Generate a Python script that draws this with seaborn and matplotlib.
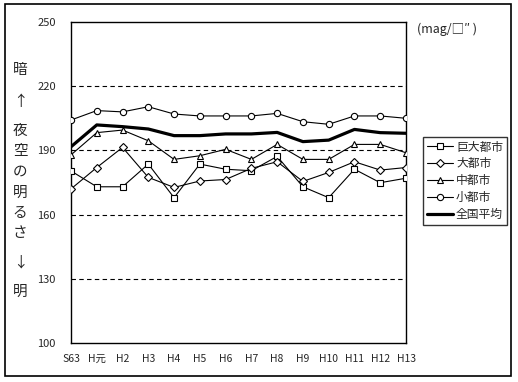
import numpy as np
import pandas as pd
import matplotlib
matplotlib.use("Agg")
import matplotlib.pyplot as plt
from matplotlib.patches import Rectangle
import seaborn as sns

# categories (fiscal years) and series values
years = ['S63', 'H元', 'H2', 'H3', 'H4', 'H5', 'H6', 'H7', 'H8', 'H9', 'H10', 'H11', 'H12', 'H13']
kyodai = [180.4, 173, 173, 183.6, 167.9, 183.6, 181.2, 180.5, 187.2, 173, 167.9, 181.2, 174.9, 177]
dai = [172, 182, 191.4, 177.4, 172.7, 175.7, 176.4, 181.6, 184.7, 175.5, 179.7, 184.7, 180.8, 182]
chu = [187.9, 198.3, 199.5, 194.5, 185.8, 187.5, 190.5, 185.8, 192.8, 185.8, 185.8, 192.8, 192.8, 188.9]
sho = [204.2, 208.6, 208, 210.4, 207, 206.1, 206.1, 206.1, 207.3, 203.4, 202.2, 206.1, 206.1, 205]
zenkoku = [191.7, 201.9, 201.1, 200, 196.9, 196.9, 197.7, 197.7, 198.4, 194.1, 194.8, 199.8, 198.3, 198]

series_names = ['巨大都市', '大都市', '中都市', '小都市', '全国平均']
series_vals = [kyodai, dai, chu, sho, zenkoku]
y_ticks = [100, 130, 160, 190, 220, 250]

sns.set_style("white")
plt.rcParams['font.family'] = ['Noto Sans CJK JP', 'DejaVu Sans']

df = pd.DataFrame({'idx': np.arange(len(years))})
for name, vals in zip(series_names, series_vals):
    df[name] = vals

fig = plt.figure(figsize=(5.18, 3.82), dpi=100)
ax = fig.add_axes([71 / 518, 1 - 343 / 382, 335 / 518, 321 / 382])

styles = {
    '巨大都市': dict(marker='s', lw=0.8, ms=4.5),
    '大都市': dict(marker='D', lw=0.8, ms=3.6),
    '中都市': dict(marker='^', lw=0.8, ms=4.8),
    '小都市': dict(marker='o', lw=0.8, ms=4.5),
    '全国平均': dict(marker=None, lw=2.3, ms=0),
}
for name in series_names:
    st = styles[name]
    kw = dict(color='black', linewidth=st['lw'], label=name, ax=ax, zorder=3)
    if st['marker']:
        kw.update(marker=st['marker'], markersize=st['ms'], markerfacecolor='white',
                  markeredgecolor='black', markeredgewidth=0.8)
    sns.lineplot(data=df, x='idx', y=name, **kw)

ax.set_xlim(0, len(years) - 1)
ax.set_ylim(100, 250)
ax.set_yticks(y_ticks)
ax.set_yticklabels([str(v) for v in y_ticks], fontsize=8)
ax.set_xticks(df['idx'])
ax.set_xticklabels(years, fontsize=7.5)
ax.tick_params(axis='x', direction='in', length=2, pad=8, color='black')
ax.tick_params(axis='y', length=0, pad=11)
ax.set_xlabel('')
ax.set_ylabel('')
for v in y_ticks[1:-1]:
    ax.axhline(v, color='black', linestyle=(0, (4, 3)), linewidth=0.8, zorder=1)
for sp in ax.spines.values():
    sp.set_color('black')
    sp.set_linewidth(1)

leg = ax.legend(loc='upper left', bbox_to_anchor=(423 / 518, 1 - 137 / 382),
                bbox_transform=fig.transFigure, fontsize=8.5, frameon=True,
                fancybox=False, edgecolor='black', handlelength=2.2,
                handletextpad=0.3, labelspacing=0.33, borderpad=0.3,
                borderaxespad=0)
leg.get_frame().set_linewidth(1)

# vertical axis caption, stacked characters
caption = [('暗', 70), ('↑', 102), ('夜', 131), ('空', 151), ('の', 172), ('明', 193),
           ('る', 213), ('さ', 233), ('↓', 263), ('明', 292)]
for ch, ypx in caption:
    fig.text(20 / 518, 1 - ypx / 382, ch, fontsize=10.5, ha='center', va='center')

fig.text(417 / 518, 1 - 29 / 382, '(mag/□″ )', fontsize=9, ha='left', va='center')

fig.patches.append(Rectangle((5 / 518, 1 - 376 / 382), 506 / 518, 372 / 382,
                             transform=fig.transFigure, fill=False,
                             edgecolor='black', linewidth=1.2))

fig.savefig('out.png', dpi=100)
